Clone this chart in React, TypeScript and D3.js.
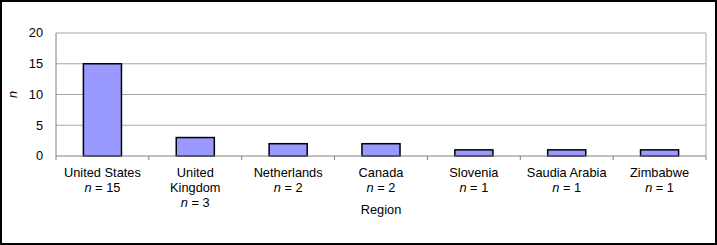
import React, { useEffect, useRef } from "react";
import * as d3 from "d3";

// Chart data
const regions = ["United States", "United Kingdom", "Netherlands", "Canada", "Slovenia", "Saudia Arabia", "Zimbabwe"];
const regionLines = [
  ["United States"],
  ["United", "Kingdom"],
  ["Netherlands"],
  ["Canada"],
  ["Slovenia"],
  ["Saudia Arabia"],
  ["Zimbabwe"],
];
const counts = [15, 3, 2, 2, 1, 1, 1];
const yTicks = [0, 5, 10, 15, 20];

const App = () => {
  const ref = useRef<SVGSVGElement>(null);

  useEffect(() => {
    const width = 717;
    const height = 245;
    const margin = { left: 56, right: 11, top: 33, bottom: 89 };
    const font = "Arial, 'Liberation Sans', sans-serif";
    const fontSize = "12.8px";

    const svg = d3.select(ref.current);
    svg.selectAll("*").remove();

    // outer frame
    svg
      .append("rect")
      .attr("x", 1)
      .attr("y", 1)
      .attr("width", width - 2)
      .attr("height", height - 2)
      .attr("fill", "white")
      .attr("stroke", "black")
      .attr("stroke-width", 2);

    const x = d3
      .scaleBand()
      .domain(regions)
      .range([margin.left, width - margin.right])
      .paddingInner(0.59)
      .paddingOuter(0.295);
    const y = d3
      .scaleLinear()
      .domain([0, 20])
      .range([height - margin.bottom, margin.top]);

    // gridlines
    svg
      .selectAll(".grid")
      .data(yTicks.filter((t) => t > 0))
      .enter()
      .append("line")
      .attr("x1", margin.left)
      .attr("x2", width - margin.right)
      .attr("y1", (d) => y(d))
      .attr("y2", (d) => y(d))
      .attr("stroke", "#a6a6a6")
      .attr("stroke-width", 1);

    // right border of plot area
    svg
      .append("line")
      .attr("x1", width - margin.right)
      .attr("x2", width - margin.right)
      .attr("y1", y(20))
      .attr("y2", y(0))
      .attr("stroke", "#a6a6a6");

    // bars
    svg
      .selectAll(".bar")
      .data(counts)
      .enter()
      .append("rect")
      .attr("x", (d, i) => x(regions[i])!)
      .attr("y", (d) => y(d))
      .attr("width", x.bandwidth())
      .attr("height", (d) => y(0) - y(d))
      .attr("fill", "#9999ff")
      .attr("stroke", "black")
      .attr("stroke-width", 1.5);

    // axes
    svg
      .append("line")
      .attr("x1", margin.left)
      .attr("x2", margin.left)
      .attr("y1", y(20))
      .attr("y2", y(0))
      .attr("stroke", "#808080");
    svg
      .append("line")
      .attr("x1", margin.left)
      .attr("x2", width - margin.right)
      .attr("y1", y(0))
      .attr("y2", y(0))
      .attr("stroke", "#808080");

    // category boundary ticks
    const step = x.step();
    svg
      .selectAll(".xtick")
      .data(d3.range(regions.length + 1))
      .enter()
      .append("line")
      .attr("x1", (i) => margin.left + i * step)
      .attr("x2", (i) => margin.left + i * step)
      .attr("y1", y(0))
      .attr("y2", y(0) + 4)
      .attr("stroke", "#808080");

    // y tick labels
    svg
      .selectAll(".ylabel")
      .data(yTicks)
      .enter()
      .append("text")
      .attr("x", margin.left - 13)
      .attr("y", (d) => y(d))
      .attr("dy", "0.35em")
      .attr("text-anchor", "end")
      .style("font-family", font)
      .style("font-size", fontSize)
      .text((d) => d);

    // category labels
    regions.forEach((r, i) => {
      const cx = x(r)! + x.bandwidth() / 2;
      const lines = regionLines[i];
      const t = svg
        .append("text")
        .attr("text-anchor", "middle")
        .style("font-family", font)
        .style("font-size", fontSize);
      lines.forEach((ln, k) => {
        t.append("tspan").attr("x", cx).attr("y", 177 + k * 15).text(ln);
      });
      const nt = t.append("tspan").attr("x", cx).attr("y", 177 + lines.length * 15);
      nt.append("tspan").style("font-style", "italic").text("n");
      nt.append("tspan").text(" = " + counts[i]);
    });

    // axis titles
    svg
      .append("text")
      .attr("x", (margin.left + width - margin.right) / 2)
      .attr("y", 214)
      .attr("text-anchor", "middle")
      .style("font-family", font)
      .style("font-size", fontSize)
      .text("Region");
    svg
      .append("text")
      .attr("transform", `translate(17, ${(y(0) + y(20)) / 2}) rotate(-90)`)
      .attr("text-anchor", "middle")
      .style("font-family", font)
      .style("font-size", fontSize)
      .style("font-style", "italic")
      .text("n");
  }, []);

  return (
    <svg
      ref={ref}
      width={717}
      height={245}
      style={{ position: "absolute", left: 0, top: 0, display: "block" }}
    />
  );
};

export default App;
